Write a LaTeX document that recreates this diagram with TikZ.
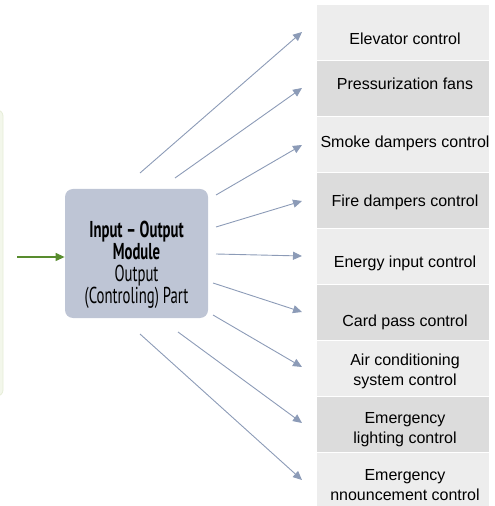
\documentclass[tikz,border=0pt]{standalone}
\usepackage{fontspec}
\setmainfont{Liberation Sans}
\newfontfamily\modfont[FakeStretch=0.64]{PT Sans}
\usetikzlibrary{arrows.meta, positioning, calc}
\definecolor{modgray}   {RGB}{190, 197, 213}
\definecolor{linkblue}  {RGB}{140, 155, 183}
\definecolor{feedgreen} {RGB}{ 88, 140,  46}
\definecolor{panelgreen}{RGB}{243, 247, 235}
\definecolor{paneledge} {RGB}{230, 237, 216}
\definecolor{rowlight}  {RGB}{237, 237, 237}
\definecolor{rowdark}   {RGB}{220, 220, 220}

\begin{document}
\begin{tikzpicture}[x=0.5pt,y=-0.5pt,
	module/.style={fill=modgray, rounded corners=4pt, minimum width=71.5pt, minimum height=64.5pt, inner sep=0pt},
	modtext/.style={align=center, inner sep=0pt, yshift=-5.5pt, font=\modfont\fontsize{11.5}{11}\selectfont},
	item/.style={align=center, inner sep=0pt, font=\fontsize{8}{10}\selectfont},
	link/.style={linkblue, line width=0.45pt, -{Triangle[length=4.5pt,width=4pt]}},
	feed/.style={feedgreen, line width=0.6pt, -{Triangle[length=4.5pt,width=4pt]}}]
	\useasboundingbox (0,0) rectangle (494,506);
	% green panel, cut by the left edge
	\draw[paneledge, fill=panelgreen, rounded corners=3pt] (-20,110) rectangle (3,396);
	% output rows
	\foreach \top/\shade in {5/rowlight, 61/rowdark, 117/rowlight, 173/rowdark, 229/rowlight,
		285/rowdark, 341/rowlight, 397/rowdark}{
		\fill[\shade] (317,\top) rectangle (489,{\top+55});}
	\fill[rowlight] (317,453) rectangle (489,506);
	\foreach \i/\y/\txt in {1/39/Elevator control, 2/84/Pressurization fans, 3/143/Smoke dampers control,
		4/202/Fire dampers control, 5/263/Energy input control, 6/322/Card pass control,
		7/371/{Air conditioning\\system control}, 8/430/{Emergency\\lighting control},
		9/485/{Emergency\\nnouncement control}}{
		\node[item] (t\i) at (405,\y) {\txt};}
	% module
	\node[module, label={[modtext]center:{\textbf{Input – Output}\\\textbf{Module}\\Output\\(Controling) Part}}]
		(mod) at (136.5,253.5) {};
	\coordinate (in) at (17,257);
	\draw[feed] (in) -- (in -| mod.west);
	% connectors
	\foreach \i/\sx/\sy/\ey in {1/140/173/32, 2/175/178/88, 3/216/195/145, 4/216/227/201, 5/216/254/256,
		6/213/283/312, 7/213/315/367, 8/178/332/423, 9/140/334/480}{
		\coordinate (s\i) at (\sx,\sy);
		\coordinate (e\i) at (302,\ey);
		\draw[link] (s\i) -- (e\i);}
\end{tikzpicture}
\end{document}
